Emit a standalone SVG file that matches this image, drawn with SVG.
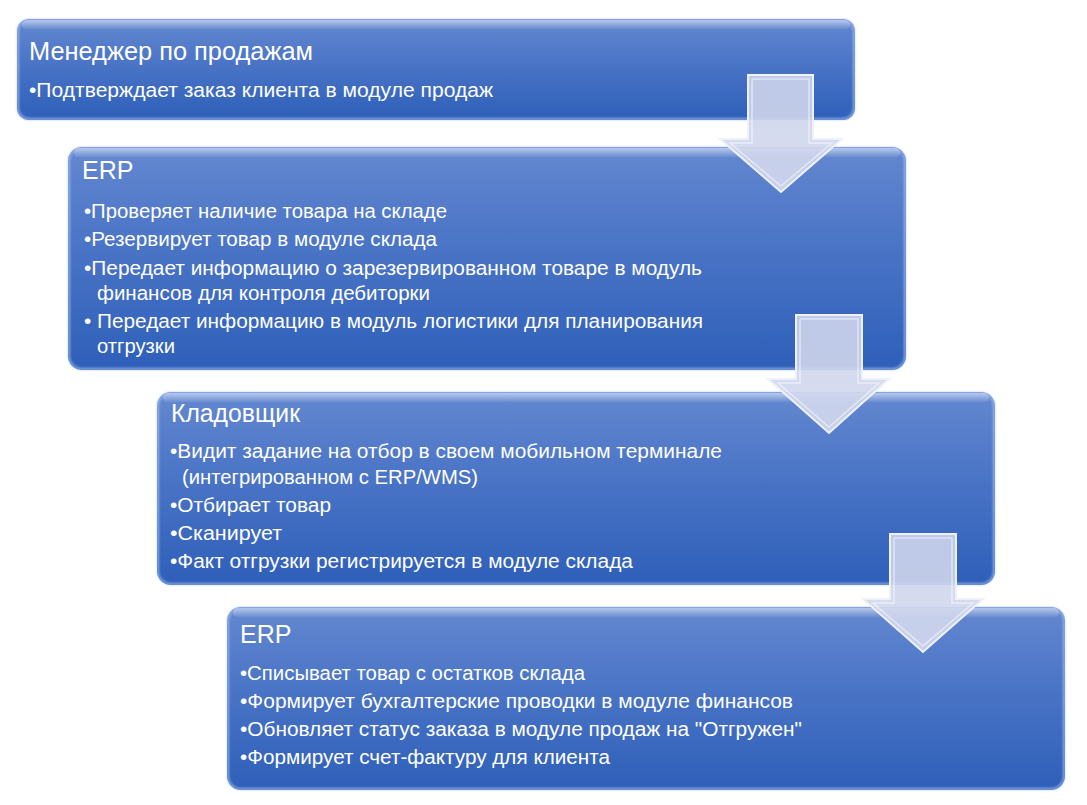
<svg xmlns="http://www.w3.org/2000/svg" width="1087" height="805" viewBox="0 0 1087 805">
  <defs>
    <linearGradient id="boxFill" x1="0" y1="0" x2="0" y2="1">
      <stop offset="0" stop-color="#6488d0"/>
      <stop offset="0.35" stop-color="#4f78c8"/>
      <stop offset="1" stop-color="#2e5fb9"/>
    </linearGradient>
    <linearGradient id="topGloss" x1="0" y1="0" x2="0" y2="1">
      <stop offset="0" stop-color="#ffffff" stop-opacity="0.55"/>
      <stop offset="1" stop-color="#ffffff" stop-opacity="0"/>
    </linearGradient>
    <linearGradient id="arrowFill" x1="0" y1="0" x2="0" y2="1">
      <stop offset="0" stop-color="#cdd4ec"/>
      <stop offset="1" stop-color="#d4d9ee"/>
    </linearGradient>
    <filter id="soft" x="-5%" y="-5%" width="110%" height="110%">
      <feGaussianBlur stdDeviation="1.2"/>
    </filter>
  </defs>
  <style>
    .box { fill: url(#boxFill); }
    .edge { fill: none; stroke: #a9c2f0; stroke-width: 2; stroke-opacity: 0.8; }
    .gloss { fill: url(#topGloss); }
    .title { font-family: "Liberation Sans", "DejaVu Sans", sans-serif; font-size: 25px; fill: #ffffff; }
    .item { font-family: "Liberation Sans", "DejaVu Sans", sans-serif; font-size: 20px; fill: #ffffff; }
    .arrow { fill: url(#arrowFill); fill-opacity: 0.9; stroke: #eef1fa; stroke-width: 2; stroke-linejoin: miter; }
    .arrowIn { fill: none; stroke: #ffffff; stroke-opacity: 0.5; stroke-width: 1.5; }
  </style>

  <g id="node1">
    <rect class="box" x="17" y="19" width="838" height="101" rx="12"/>
    <rect class="gloss" x="22" y="20" width="828" height="10" rx="5"/>
    <rect class="edge" x="18" y="20" width="836" height="99" rx="11" filter="url(#soft)"/>
    <text class="title" x="29" y="60" textLength="284" lengthAdjust="spacingAndGlyphs">Менеджер по продажам</text>
    <text class="item" x="29" y="97" textLength="464" lengthAdjust="spacingAndGlyphs">•Подтверждает заказ клиента в модуле продаж</text>
  </g>

  <g id="node2">
    <rect class="box" x="68" y="147" width="838" height="223" rx="14"/>
    <rect class="gloss" x="74" y="148" width="826" height="10" rx="5"/>
    <rect class="edge" x="69" y="148" width="836" height="221" rx="13" filter="url(#soft)"/>
    <text class="title" x="82" y="179">ERP</text>
    <text class="item" x="84" y="218" textLength="363" lengthAdjust="spacingAndGlyphs">•Проверяет наличие товара на складе</text>
    <text class="item" x="84" y="246" textLength="353" lengthAdjust="spacingAndGlyphs">•Резервирует товар в модуле склада</text>
    <text class="item" x="84" y="275" textLength="618" lengthAdjust="spacingAndGlyphs">•Передает информацию о зарезервированном товаре в модуль</text>
    <text class="item" x="97" y="300" textLength="333" lengthAdjust="spacingAndGlyphs">финансов для контроля дебиторки</text>
    <text class="item" x="84" y="328" textLength="619" lengthAdjust="spacingAndGlyphs">• Передает информацию в модуль логистики для планирования</text>
    <text class="item" x="97" y="353" textLength="78" lengthAdjust="spacingAndGlyphs">отгрузки</text>
  </g>

  <g id="node3">
    <rect class="box" x="157" y="392" width="838" height="193" rx="14"/>
    <rect class="gloss" x="163" y="393" width="826" height="10" rx="5"/>
    <rect class="edge" x="158" y="393" width="836" height="191" rx="13" filter="url(#soft)"/>
    <text class="title" x="171" y="422" textLength="129" lengthAdjust="spacingAndGlyphs">Кладовщик</text>
    <text class="item" x="170" y="458" textLength="552" lengthAdjust="spacingAndGlyphs">•Видит задание на отбор в своем мобильном терминале</text>
    <text class="item" x="182" y="484" textLength="296" lengthAdjust="spacingAndGlyphs">(интегрированном с ERP/WMS)</text>
    <text class="item" x="170" y="512" textLength="161" lengthAdjust="spacingAndGlyphs">•Отбирает товар</text>
    <text class="item" x="170" y="540" textLength="112" lengthAdjust="spacingAndGlyphs">•Сканирует</text>
    <text class="item" x="170" y="568" textLength="463" lengthAdjust="spacingAndGlyphs">•Факт отгрузки регистрируется в модуле склада</text>
  </g>

  <g id="node4">
    <rect class="box" x="227" y="607" width="838" height="183" rx="14"/>
    <rect class="gloss" x="233" y="608" width="826" height="10" rx="5"/>
    <rect class="edge" x="228" y="608" width="836" height="181" rx="13" filter="url(#soft)"/>
    <text class="title" x="240" y="643">ERP</text>
    <text class="item" x="240" y="680" textLength="345" lengthAdjust="spacingAndGlyphs">•Списывает товар с остатков склада</text>
    <text class="item" x="240" y="708" textLength="553" lengthAdjust="spacingAndGlyphs">•Формирует бухгалтерские проводки в модуле финансов</text>
    <text class="item" x="240" y="736" textLength="562" lengthAdjust="spacingAndGlyphs">•Обновляет статус заказа в модуле продаж на "Отгружен"</text>
    <text class="item" x="240" y="764" textLength="370" lengthAdjust="spacingAndGlyphs">•Формирует счет-фактуру для клиента</text>
  </g>

  <g id="connectors">
    <g id="arrow1">
      <polygon class="arrow" points="748,75 813,75 813,139 842,139 781,192 720,139 748,139"/>
      <polyline class="arrowIn" points="752,79 809,79 809,143 832,143 781,186 730,143 752,143 752,79"/>
    </g>
    <g id="arrow2">
      <polygon class="arrow" points="796,315 862,315 862,379 889,379 829,433 768,379 796,379"/>
      <polyline class="arrowIn" points="800,319 858,319 858,383 879,383 829,427 778,383 800,383 800,319"/>
    </g>
    <g id="arrow3">
      <polygon class="arrow" points="890,534 956,534 956,599 983,599 923,652 863,599 890,599"/>
      <polyline class="arrowIn" points="894,538 952,538 952,603 973,603 923,646 873,603 894,603 894,538"/>
    </g>
  </g>
</svg>
